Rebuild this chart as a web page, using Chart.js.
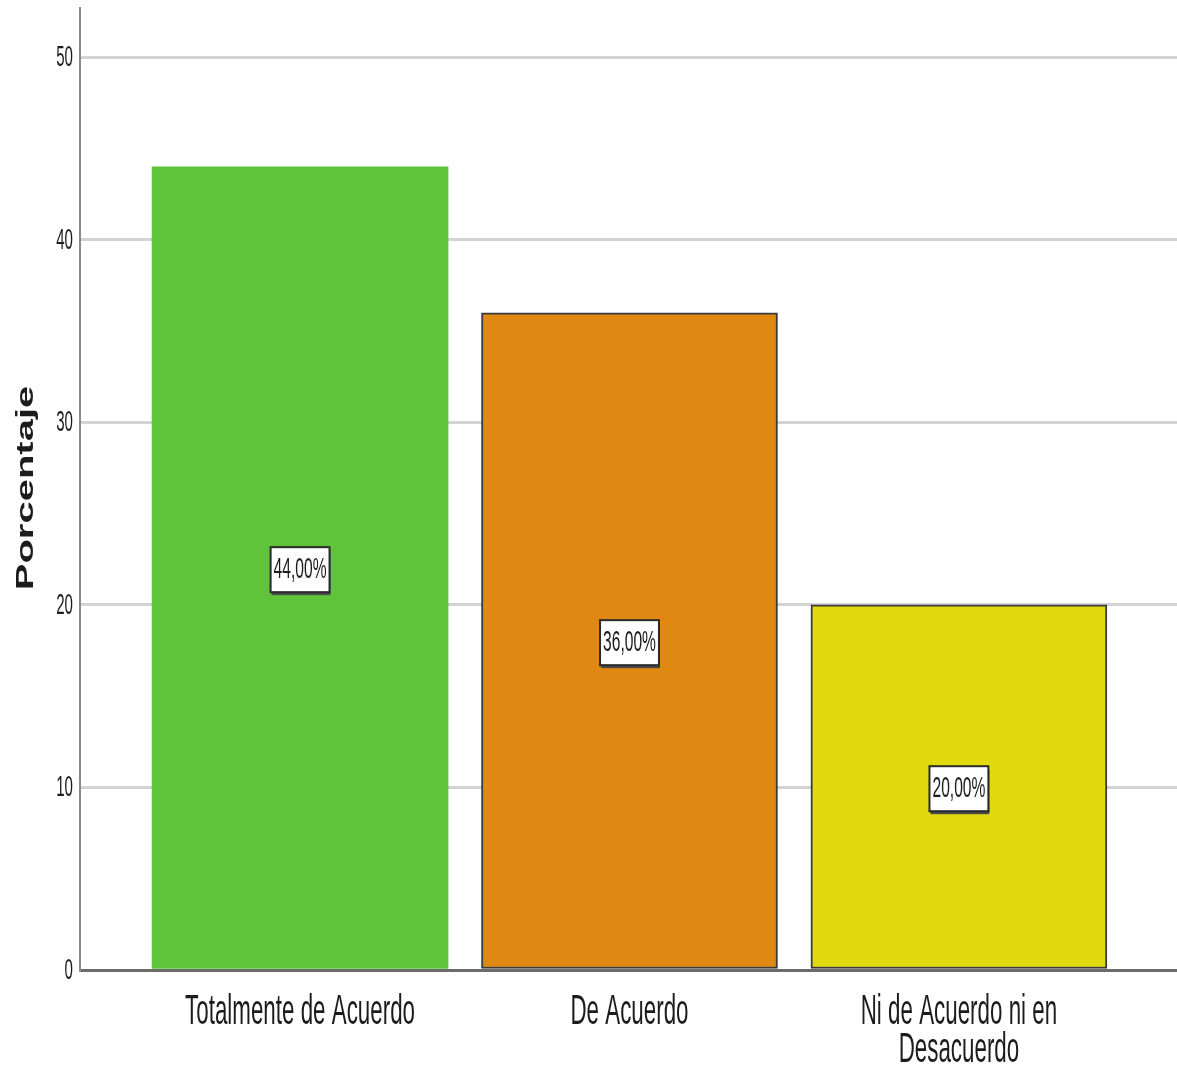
<!DOCTYPE html>
<html>
<head>
<meta charset="utf-8">
<script src="https://cdn.jsdelivr.net/npm/chart.js@4"></script>
<style>
	html, body { margin: 0; padding: 0; background: #fff; }
	canvas { display: block; }
</style>
</head>
<body>
<canvas id="porcentaje-chart" width="1177" height="1068"></canvas>
<script>
const categories = [
	'Totalmente de Acuerdo',
	'De Acuerdo',
	['Ni de Acuerdo ni en', 'Desacuerdo'],
];
const percentages = [44, 36, 20];
const yTicks = [0, 10, 20, 30, 40, 50];
const barColors = ['#5fc43a', '#e08912', '#e2d90f'];
const barBorders = ['#5fc43a', '#3a3a3a', '#3a3a3a'];

// the original picture is squeezed sideways, so every text is drawn narrowed
const squeeze = 0.52;
const textColor = '#1c1c1c';

function narrowText(ctx, text, x, y, font, align, baseline) {
	ctx.save();
	ctx.translate(x, y);
	ctx.scale(squeeze, 1);
	ctx.font = font;
	ctx.fillStyle = textColor;
	ctx.textAlign = align;
	ctx.textBaseline = baseline;
	ctx.fillText(text, 0, 0);
	ctx.restore();
}

const textPlugin = {
	id: 'spssText',
	afterDatasetsDraw(chart) {
		const ctx = chart.ctx;
		const xScale = chart.scales.x;
		const yScale = chart.scales.y;

		// value boxes in the middle of every bar
		chart.getDatasetMeta(0).data.forEach((bar, i) => {
			const { x, y, base } = bar.getProps(['x', 'y', 'base'], true);
			const label = `${percentages[i].toFixed(2).replace('.', ',')}%`;
			const font = '30px "Liberation Sans", Arial, sans-serif';
			ctx.font = font;
			const w = ctx.measureText(label).width * squeeze + 6;
			const h = 45;
			const cx = x;
			const cy = (y + base) / 2 + 2;

			ctx.save();
			ctx.fillStyle = '#4a4a4a';
			ctx.fillRect(cx - w / 2 + 1, cy - h / 2 + 3, w, h);
			ctx.fillStyle = '#ffffff';
			ctx.fillRect(cx - w / 2, cy - h / 2, w, h);
			ctx.lineWidth = 2;
			ctx.strokeStyle = '#2a2a2a';
			ctx.strokeRect(cx - w / 2, cy - h / 2, w, h);
			ctx.restore();

			narrowText(ctx, label, cx, cy, font, 'center', 'middle');
		});

		// y tick labels
		yTicks.forEach((v) => {
			narrowText(ctx, String(v), 73, yScale.getPixelForValue(v) + 1, '29px "Liberation Sans", Arial, sans-serif', 'right', 'middle');
		});

		// category labels
		categories.forEach((c, i) => {
			const lines = Array.isArray(c) ? c : [c];
			const cx = xScale.getPixelForValue(i);
			lines.forEach((line, j) => {
				narrowText(ctx, line, cx, 1024 + j * 38, '43px "Liberation Sans", Arial, sans-serif', 'center', 'alphabetic');
			});
		});

		// axis title
		ctx.save();
		ctx.translate(33, 488);
		ctx.rotate(-Math.PI / 2);
		ctx.scale(1, 0.6);
		ctx.font = 'bold 40px "Liberation Sans", Arial, sans-serif';
		ctx.fillStyle = textColor;
		ctx.textAlign = 'center';
		ctx.textBaseline = 'alphabetic';
		ctx.fillText('Porcentaje', 0, 0);
		ctx.restore();
	}
};

window.addEventListener('load', function () {
	buildChart();
});

function buildChart() {
	new Chart(
		document.getElementById('porcentaje-chart'),
		{
			type: 'bar',
			data: {
				datasets: [
					{
						label: 'Porcentaje',
						data: percentages.map((p, i) => ({ x: i, y: p })),
						backgroundColor: barColors,
						borderColor: barBorders,
						borderWidth: [0, 2, 2],
						borderSkipped: false,
						barThickness: 296,
					}
				]
			},
			options: {
				responsive: false,
				animation: false,
				devicePixelRatio: 1,
				layout: {
					padding: { left: 80, right: 0, top: 8, bottom: 98 },
				},
				plugins: {
					legend: { display: false },
					tooltip: { enabled: false },
				},
				scales: {
					x: {
						type: 'linear',
						offset: false,
						min: -0.668,
						max: 2.662,
						ticks: { display: false },
						grid: { display: false, drawTicks: false },
						border: { display: true, color: '#6b6b6b', width: 3 },
					},
					y: {
						min: 0,
						max: 52.7,
						afterBuildTicks: (axis) => {
							axis.ticks = yTicks.map((v) => ({ value: v }));
						},
						ticks: { display: false },
						grid: { color: '#d3d3d3', lineWidth: 3, drawTicks: false },
						border: { display: true, color: '#8a8a8a', width: 2 },
					}
				}
			},
			plugins: [textPlugin]
		}
	);
}
</script>
</body>
</html>
